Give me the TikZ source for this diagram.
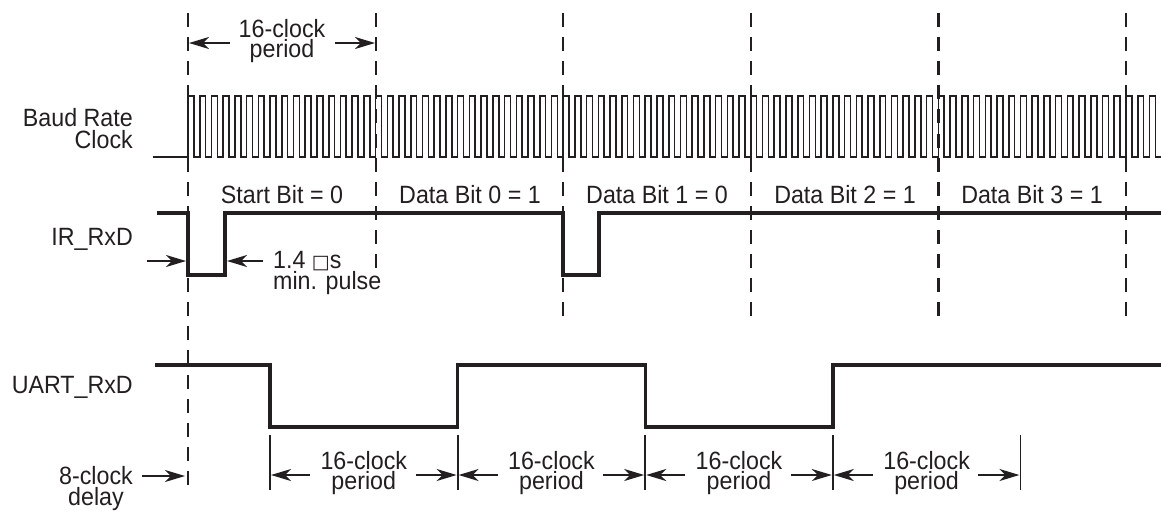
\documentclass[tikz,border=0pt]{standalone}
\usepackage{fontspec}
\setmainfont{Liberation Sans}[FakeStretch=0.93]
\newfontfamily\symfont{DejaVu Sans}
\usetikzlibrary{arrows.meta}
\definecolor{ink}{HTML}{231F20}
\tikzset{
  dashline/.style={ink, line width=2.2pt, dash pattern=on 14pt off 10.1pt},
  wave/.style={ink, line width=3.4pt, line join=miter},
  clk/.style={ink, line width=1.6pt, line join=miter},
  dimbar/.style={ink, line width=1.8pt},
  dimarrow/.style={ink, line width=2pt, -{Stealth[length=20pt,width=12pt,inset=6pt]}},
  lbl/.style={inner sep=0pt, text=ink, font=\fontsize{25}{21}\selectfont},
}
\begin{document}
\begin{tikzpicture}[x=1pt,y=-1pt]
\useasboundingbox (0,0) rectangle (1161,512);
% dashed bit boundaries
\coordinate (d0t) at (188,13); \coordinate (d0b) at (188,487);
\draw[dashline] (d0t) -- (d0b);
\coordinate (d1t) at (375.6,13); \coordinate (d1b) at (375.6,269);
\draw[dashline] (d1t) -- (d1b);
\foreach \k in {2,...,5} {
  \coordinate (d\k t) at ({188+\k*187.6},13);
  \coordinate (d\k b) at ({188+\k*187.6},317);
  \draw[dashline] (d\k t) -- (d\k b);
}
% top dimension
\coordinate (ta1) at (230,43); \coordinate (tt1) at (189,43);
\coordinate (ta2) at (335,43); \coordinate (tt2) at (375,43);
\draw[dimarrow] (ta1) -- (tt1);
\draw[dimarrow] (ta2) -- (tt2);
\node[lbl, anchor=base] (top1) at (282,37) {16-clock};
\node[lbl, anchor=base] (top2) at (282,57) {period};
% labels
\node[lbl, anchor=base east] (baud1) at (133,126) {Baud Rate};
\node[lbl, anchor=base east] (baud2) at (133,148) {Clock};
\node[lbl, anchor=base east] (irl) at (133,245) {IR\_RxD};
\node[lbl, anchor=base east] (uartl) at (133,393) {UART\_RxD};
\node[lbl, anchor=base] (del1) at (96,484) {8-clock};
\node[lbl, anchor=base] (del2) at (96,505) {delay};
% clock
\draw[clk] (153,157) -- (188,157)
  \foreach \i in {0,...,82} {
    -- ({188+\i*11.725},96) -- ({188+(\i+0.5)*11.725},96)
    -- ({188+(\i+0.5)*11.725},157) -- ({188+(\i+1)*11.725},157)
  };
% bit labels
\node[lbl, anchor=base] (b0) at (282,203) {Start Bit = 0};
\node[lbl, anchor=base] (b1) at (470,203) {Data Bit 0 = 1};
\node[lbl, anchor=base] (b2) at (657,203) {Data Bit 1 = 0};
\node[lbl, anchor=base] (b3) at (845,203) {Data Bit 2 = 1};
\node[lbl, anchor=base] (b4) at (1032,203) {Data Bit 3 = 1};
% IR_RxD
\draw[wave] (157,213) -- (188,213) -- (188,275) -- (225,275) -- (225,213)
  -- (563,213) -- (563,275) -- (599,275) -- (599,213) -- (1165,213);
\coordinate (ia1) at (147,261); \coordinate (it1) at (186,261);
\coordinate (ia2) at (263,261); \coordinate (it2) at (227,261);
\draw[dimarrow] (ia1) -- (it1);
\draw[dimarrow] (ia2) -- (it2);
\node[lbl, anchor=base west] (p1) at (273,268) {1.4 {\symfont\fontsize{19}{19}\selectfont □}s};
\node[lbl, anchor=base west] (p2) at (273,289) {min. pulse};
% UART_RxD
\draw[wave] (155,365) -- (270,365) -- (270,427) -- (457.6,427) -- (457.6,365)
  -- (645.2,365) -- (645.2,427) -- (832.8,427) -- (832.8,365) -- (1165,365);
% delay arrow
\coordinate (da) at (142,476); \coordinate (dt) at (185,476);
\draw[dimarrow] (da) -- (dt);
% bottom dimensions
\foreach \k in {0,...,4} {
  \coordinate (bb\k t) at ({270+\k*187.6},435);
  \coordinate (bb\k b) at ({270+\k*187.6},490);
  \draw[dimbar] (bb\k t) -- (bb\k b);
}
\foreach \k in {0,...,3} {
  \coordinate (la\k) at ({270+\k*187.6+40},475);
  \coordinate (lt\k) at ({270+\k*187.6+1},475);
  \coordinate (ra\k) at ({270+(\k+1)*187.6-42},475);
  \coordinate (rt\k) at ({270+(\k+1)*187.6-1},475);
  \draw[dimarrow] (la\k) -- (lt\k);
  \draw[dimarrow] (ra\k) -- (rt\k);
  \node[lbl, anchor=base] (bt\k) at ({270+\k*187.6+93.8},469) {16-clock};
  \node[lbl, anchor=base] (bp\k) at ({270+\k*187.6+93.8},489) {period};
}
\end{tikzpicture}
\end{document}
